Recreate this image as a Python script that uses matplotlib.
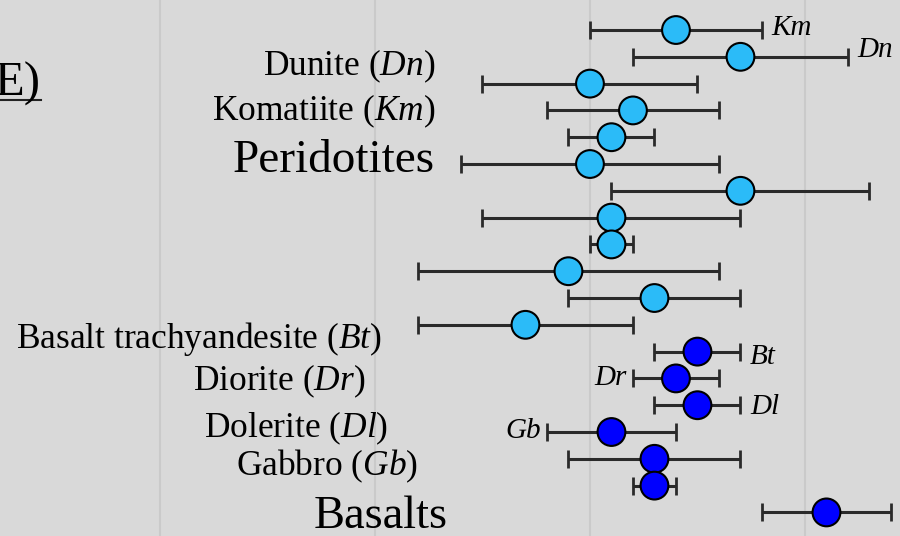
"""
Rock type error bar panel (E)
"""

import matplotlib.pyplot as plt
import numpy as np

plt.rcParams['font.family'] = ['Liberation Serif', 'DejaVu Serif']
plt.rcParams['mathtext.fontset'] = 'custom'
plt.rcParams['mathtext.rm'] = 'Liberation Serif'
plt.rcParams['mathtext.it'] = 'Liberation Serif:italic'

# values and half-widths, top row first
peridotite_vals = [3.4, 3.7, 3.0, 3.2, 3.1, 3.0, 3.7, 3.1, 3.1, 2.9, 3.3, 2.7]
peridotite_errs = [0.4, 0.5, 0.5, 0.4, 0.2, 0.6, 0.6, 0.6, 0.1, 0.7, 0.4, 0.5]
basalt_vals = [3.5, 3.4, 3.5, 3.1, 3.3, 3.3, 4.1]
basalt_errs = [0.2, 0.2, 0.2, 0.3, 0.4, 0.1, 0.3]

# short labels next to some points: (row, text, side, vertical nudge)
point_labels = [(0, 'Km', 'right', -0.07), (1, 'Dn', 'right', -0.26),
                (12, 'Bt', 'right', 0.19), (13, 'Dr', 'left', 0.0),
                (14, 'Dl', 'right', 0.07), (15, 'Gb', 'left', -0.04)]

# left-hand rock names: (text, x, baseline row, size)
rock_names = [
    ('Dunite ($Dn$)', 2.28, 1.68, 25.5),
    ('Komatiite ($Km$)', 2.28, 3.36, 25.5),
    ('Peridotites', 2.28, 5.3, 34),
    ('Basalt trachyandesite ($Bt$)', 2.03, 11.87, 25.5),
    ('Diorite ($Dr$)', 1.955, 13.43, 25.5),
    ('Dolerite ($Dl$)', 2.06, 15.2, 25.5),
    ('Gabbro ($Gb$)', 2.2, 16.6, 25.5),
    ('Basalts', 2.34, 18.6, 33.5),
]

vals = peridotite_vals + basalt_vals
errs = peridotite_errs + basalt_errs
rows = np.arange(len(vals))
colors = ['#2BBBF8'] * len(peridotite_vals) + ['#0000FF'] * len(basalt_vals)

fig = plt.figure(figsize=(9, 5.36), dpi=100)
fig.patch.set_facecolor('#D9D9D9')
ax = fig.add_axes([0, 0, 1, 1])
ax.set_facecolor('#D9D9D9')

ax.errorbar(vals, rows, xerr=errs, fmt='none', ecolor='#2A2A2A',
            elinewidth=2.2, capsize=6.5, capthick=2.0, zorder=2)
ax.scatter(vals, rows, s=400, c=colors, edgecolors='black', linewidths=1.5, zorder=3)

for row, txt, side, dy in point_labels:
    v, e = vals[row], errs[row]
    if side == 'right':
        ax.text(v + e + 0.045, row + dy, txt, style='italic', fontsize=21,
                ha='left', va='center')
    else:
        ax.text(v - e - 0.03, row + dy, txt, style='italic', fontsize=21,
                ha='right', va='center')

for txt, x, y, size in rock_names:
    ax.text(x, y, txt, fontsize=size, ha='right', va='baseline')

ax.text(0.445, 2.45, 'E)', fontsize=35, ha='right', va='baseline')
ax.plot([0.2, 0.445], [2.62, 2.62], color='#222222', lw=1.5)

ax.set_xlim(0.256, 4.442)
ax.set_ylim(18.88, -1.12)
ax.set_xticks([1, 2, 3, 4])
ax.grid(axis='x', color='#CACACA', lw=1.5)
ax.set_axisbelow(True)
ax.tick_params(length=0, labelbottom=False, labelleft=False)
ax.set_yticks([])
for s in ax.spines.values():
    s.set_visible(False)

plt.savefig('out.png')
plt.close()
